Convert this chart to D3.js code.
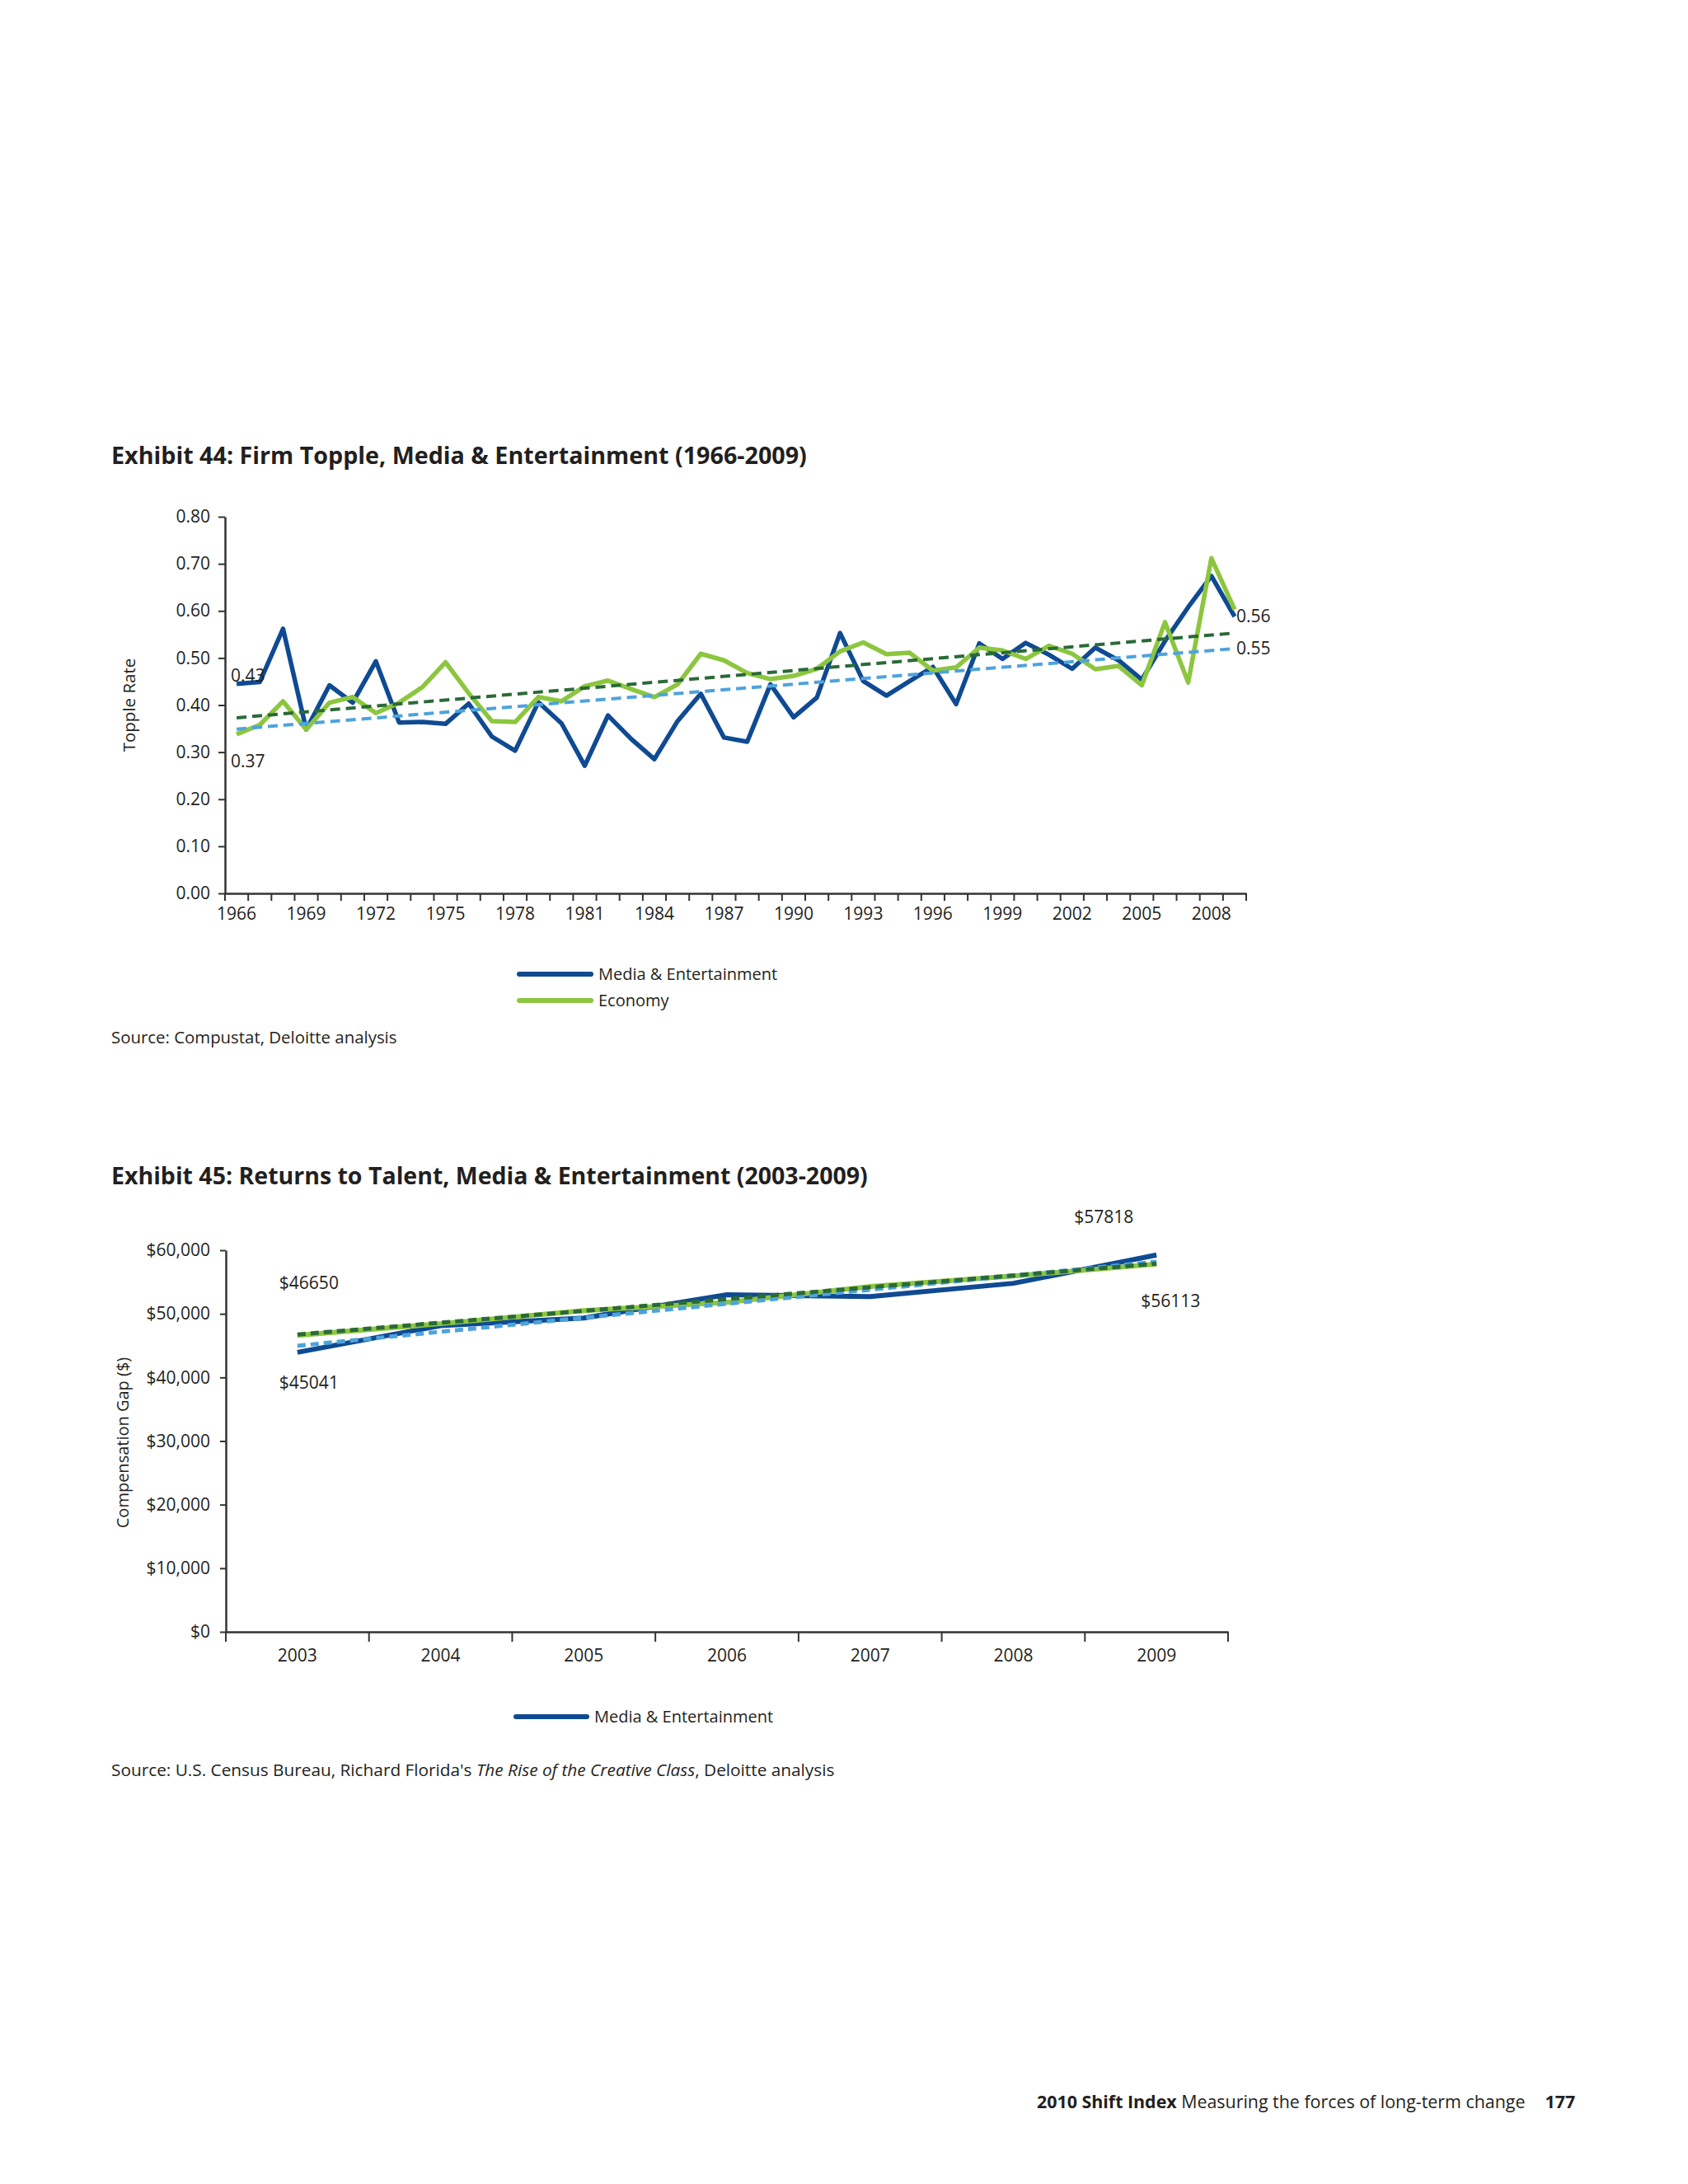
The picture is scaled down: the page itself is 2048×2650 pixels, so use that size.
<!DOCTYPE html>
<html>
<head>
<meta charset="utf-8">
<script src="https://cdn.jsdelivr.net/npm/d3@7"></script>
<style>
  body { margin: 0; background: #fff; }
  svg text { font-family: "Open Sans", "Noto Sans", sans-serif; fill: #231f20; }
</style>
</head>
<body>
<script>
// ---- Exhibit 44 data ----
const toppleYears = d3.range(1966, 2010);
const toppleTickLabels = [1966, 1969, 1972, 1975, 1978, 1981, 1984, 1987, 1990, 1993, 1996, 1999, 2002, 2005, 2008];
const toppleMedia = [0.445, 0.449, 0.562, 0.348, 0.442, 0.405, 0.493, 0.363, 0.364, 0.360,
  0.403, 0.333, 0.303, 0.406, 0.361, 0.271, 0.378, 0.328, 0.285, 0.366,
  0.424, 0.331, 0.322, 0.444, 0.374, 0.416, 0.553, 0.451, 0.420, 0.451,
  0.481, 0.402, 0.531, 0.498, 0.532, 0.507, 0.477, 0.522, 0.495, 0.454,
  0.536, 0.608, 0.674, 0.588];
const toppleEconomy = [0.338, 0.358, 0.408, 0.348, 0.405, 0.417, 0.383, 0.405, 0.438, 0.491,
  0.425, 0.366, 0.364, 0.417, 0.408, 0.440, 0.452, 0.434, 0.417, 0.444,
  0.509, 0.495, 0.468, 0.455, 0.462, 0.477, 0.514, 0.533, 0.508, 0.511,
  0.473, 0.480, 0.522, 0.516, 0.498, 0.526, 0.509, 0.476, 0.483, 0.442,
  0.576, 0.448, 0.712, 0.603];
const toppleTrendEconomy = [0.373, 0.553];   // 1966 -> 2009
const toppleTrendMedia = [0.349, 0.520];
const toppleLabels = [["0.43", 1966, 0.462], ["0.37", 1966, 0.28], ["0.56", 2009, 0.589], ["0.55", 2009, 0.52]];

// ---- Exhibit 45 data ----
const talentYears = [2003, 2004, 2005, 2006, 2007, 2008, 2009];
const talentMedia = [43950, 48150, 49350, 53000, 52700, 54800, 59250];
const talentEconomy = [46620, 48450, 50500, 51800, 54300, 55950, 57818];
const talentTrendEconomy = [46750, 57890];
const talentTrendMedia = [44975, 58200];
const talentTicks = [0, 10000, 20000, 30000, 40000, 50000, 60000];

const blue = "#0f4a93", green = "#8cc63f", darkGreen = "#2a6a37", lightBlue = "#4ea3dc";

const svg = d3.select("body").append("svg")
  .attr("width", 2048).attr("height", 2650);

function styleAxis(g) {
  g.select(".domain").attr("stroke", "#333").attr("stroke-width", 2.5);
  g.selectAll(".tick line").attr("stroke", "#333").attr("stroke-width", 2);
  g.selectAll(".tick text").attr("font-family", "Open Sans").attr("font-size", 21).attr("fill", "#231f20");
}

// ================= Exhibit 44 =================
svg.append("text").attr("x", 135).attr("y", 563)
  .attr("font-size", 28.7).attr("font-weight", 700)
  .text("Exhibit 44: Firm Topple, Media & Entertainment (1966-2009)");

const x1 = d3.scaleBand().domain(toppleYears).range([273, 1512]).padding(0);
const y1 = d3.scaleLinear().domain([0, 0.8]).range([1084, 627]);
const cx1 = d => x1(d) + x1.bandwidth() / 2;

svg.append("g").attr("transform", "translate(273,0)")
  .call(d3.axisLeft(y1).tickValues(d3.range(0, 0.81, 0.1)).tickFormat(d3.format(".2f")).tickSize(8).tickPadding(10).tickSizeOuter(0))
  .call(styleAxis);

const xAxis1 = svg.append("g").attr("transform", "translate(0,1084)")
  .call(d3.axisBottom(x1).tickValues(toppleTickLabels).tickSize(0).tickPadding(17).tickSizeOuter(0))
  .call(styleAxis);
// boundary ticks between the years
xAxis1.selectAll(".bt").data(toppleYears.concat([null])).enter().append("line")
  .attr("x1", d => d === null ? x1.range()[1] : x1(d))
  .attr("x2", d => d === null ? x1.range()[1] : x1(d))
  .attr("y1", 0).attr("y2", 9).attr("stroke", "#333").attr("stroke-width", 2);

svg.append("text")
  .attr("transform", "translate(164," + (y1(0.4)) + ") rotate(-90)")
  .attr("text-anchor", "middle").attr("font-size", 20.5).text("Topple Rate");

const line1 = d3.line().x((d, i) => cx1(toppleYears[i])).y(d => y1(d));
svg.append("path").datum(toppleMedia).attr("d", line1)
  .attr("fill", "none").attr("stroke", blue).attr("stroke-width", 5.5).attr("stroke-linejoin", "round");
svg.append("path").datum(toppleEconomy).attr("d", line1)
  .attr("fill", "none").attr("stroke", green).attr("stroke-width", 5.5).attr("stroke-linejoin", "round");

const ends1 = [toppleYears[0], toppleYears[toppleYears.length - 1]];
const trend1 = d3.line().x((d, i) => cx1(ends1[i])).y(d => y1(d));
[[toppleTrendEconomy, darkGreen], [toppleTrendMedia, lightBlue]].forEach(([vals, col]) => {
  svg.append("path").datum(vals).attr("d", trend1)
    .attr("fill", "none").attr("stroke", col).attr("stroke-width", 4)
    .attr("stroke-dasharray", "12,7");
});

svg.selectAll(".lab1").data(toppleLabels).enter().append("text")
  .attr("x", d => d[1] === 2009 ? cx1(d[1]) + 2 : cx1(d[1]) - 7)
  .attr("y", d => y1(d[2]) + 7)
  .attr("font-size", 21).text(d => d[0]);

// legend 44
const leg1 = [["Media & Entertainment", blue], ["Economy", green]];
const lg1 = svg.selectAll(".lg1").data(leg1).enter().append("g")
  .attr("transform", (d, i) => `translate(630,${1182 + i * 32})`);
lg1.append("line").attr("x1", 0).attr("x2", 87).attr("stroke", d => d[1])
  .attr("stroke-width", 6).attr("stroke-linecap", "round");
lg1.append("text").attr("x", 96).attr("y", 7).attr("font-size", 20).text(d => d[0]);

svg.append("text").attr("x", 135).attr("y", 1266).attr("font-size", 20.4)
  .text("Source: Compustat, Deloitte analysis");

// ================= Exhibit 45 =================
svg.append("text").attr("x", 135).attr("y", 1437)
  .attr("font-size", 28.5).attr("font-weight", 700)
  .text("Exhibit 45: Returns to Talent, Media & Entertainment (2003-2009)");

const x2 = d3.scaleBand().domain(talentYears).range([274, 1490]).padding(0);
const y2 = d3.scaleLinear().domain([0, 60000]).range([1980, 1517]);
const cx2 = d => x2(d) + x2.bandwidth() / 2;

svg.append("g").attr("transform", "translate(274,0)")
  .call(d3.axisLeft(y2).tickValues(talentTicks).tickFormat(d => "$" + d3.format(",")(d)).tickSize(7).tickPadding(12).tickSizeOuter(0))
  .call(styleAxis);

const xAxis2 = svg.append("g").attr("transform", "translate(0,1980)")
  .call(d3.axisBottom(x2).tickSize(0).tickPadding(21).tickSizeOuter(0))
  .call(styleAxis);
xAxis2.selectAll(".bt").data(talentYears.concat([null])).enter().append("line")
  .attr("x1", d => d === null ? x2.range()[1] : x2(d))
  .attr("x2", d => d === null ? x2.range()[1] : x2(d))
  .attr("y1", 0).attr("y2", 12).attr("stroke", "#333").attr("stroke-width", 2);

svg.append("text")
  .attr("transform", "translate(156," + (y2(30000) + 2) + ") rotate(-90)")
  .attr("text-anchor", "middle").attr("font-size", 20).text("Compensation Gap ($)");

const line2 = d3.line().x((d, i) => cx2(talentYears[i])).y(d => y2(d));
svg.append("path").datum(talentMedia).attr("d", line2)
  .attr("fill", "none").attr("stroke", blue).attr("stroke-width", 6).attr("stroke-linejoin", "round");
svg.append("path").datum(talentEconomy).attr("d", line2)
  .attr("fill", "none").attr("stroke", green).attr("stroke-width", 6).attr("stroke-linejoin", "round");

const ends2 = [talentYears[0], talentYears[talentYears.length - 1]];
const trend2 = d3.line().x((d, i) => cx2(ends2[i])).y(d => y2(d));
[[talentTrendMedia, lightBlue], [talentTrendEconomy, darkGreen]].forEach(([vals, col]) => {
  svg.append("path").datum(vals).attr("d", trend2)
    .attr("fill", "none").attr("stroke", col).attr("stroke-width", 5)
    .attr("stroke-dasharray", "10,6");
});

const talentLabels = [["$57818", 2009, 65150, -100], ["$46650", 2003, 54800, -22], ["$56113", 2009, 52000, -19], ["$45041", 2003, 39150, -22]];
svg.selectAll(".lab2").data(talentLabels).enter().append("text")
  .attr("x", d => cx2(d[1]) + d[3])
  .attr("y", d => y2(d[2]) + 7)
  .attr("font-size", 21).text(d => d[0]);

const lg2 = svg.append("g").attr("transform", "translate(626,2083)");
lg2.append("line").attr("x1", 0).attr("x2", 86).attr("stroke", blue)
  .attr("stroke-width", 6).attr("stroke-linecap", "round");
lg2.append("text").attr("x", 95).attr("y", 7).attr("font-size", 20).text("Media & Entertainment");

const src2 = svg.append("text").attr("x", 135).attr("y", 2155).attr("font-size", 20.8);
src2.append("tspan").text("Source: U.S. Census Bureau, Richard Florida's ");
src2.append("tspan").attr("font-style", "italic").text("The Rise of the Creative Class");
src2.append("tspan").text(", Deloitte analysis");

// footer
const foot = svg.append("text").attr("x", 1258).attr("y", 2558).attr("font-size", 21.4);
foot.append("tspan").attr("font-weight", 700).text("2010 Shift Index");
foot.append("tspan").text(" Measuring the forces of long-term change");
foot.append("tspan").attr("font-weight", 700).attr("dx", 24).text("177");
</script>
</body>
</html>
